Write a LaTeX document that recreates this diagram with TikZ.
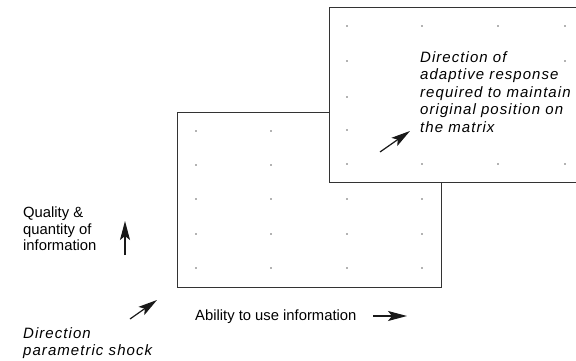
\documentclass[tikz,border=0pt]{standalone}
\usepackage{fontspec}
\setmainfont{Liberation Sans}
\newfontfamily\dirfont[LetterSpace=7]{Liberation Sans}
\usetikzlibrary{arrows.meta}
\begin{document}
\begin{tikzpicture}[x=1pt,y=-1pt,
  frame/.style={draw=black!80,line width=0.8pt},
  spot/.style={fill=black!60},
  dart/.style={line width=1.2pt,black!90,-{Stealth[length=19pt,width=10pt,inset=4pt]}},
  lbl/.style={align=left,inner sep=0pt,anchor=north west,font=\fontsize{14.8}{16.5}\selectfont},
  dir/.style={align=left,inner sep=0pt,anchor=north west,font=\dirfont\itshape\fontsize{15}{17.5}\selectfont}]
\useasboundingbox (0,0) rectangle (576,361);
\clip (0,0) rectangle (576,361);
\draw[frame,fill=white] (177,112) rectangle (441,287);
\foreach \x in {196,271,347,422} \foreach \y in {131,165,199,234,268} \fill[spot] (\x,\y) circle[radius=0.8pt];
\draw[frame,fill=white] (329,7) rectangle (593,182);
\foreach \x/\y in {347/26,422/26,498/26,565/26,347/61,565/61,347/97,347/130,347/164,422/164,498/164,565/164}
  \fill[spot] (\x,\y) circle[radius=0.8pt];
\node[dir] (resp) at (420,51) {Direction of\\adaptive response\\required to maintain\\original position on\\the matrix};
\node[dir] (shock) at (23,327) {Direction\\parametric shock};
\node[lbl] (qual) at (23,207) {Quality \&\\quantity of\\information};
\node[lbl,anchor=west] (abil) at (195,317) {Ability to use information};
\coordinate (v0) at (125,255);
\coordinate (v1) at (125,221);
\coordinate (h0) at (373,316);
\coordinate (h1) at (407,316);
\coordinate (s0) at (130,319);
\coordinate (s1) at (157,300);
\coordinate (r0) at (380,152);
\coordinate (r1) at (410,131);
\draw[dart] (v0) -- (v1);
\draw[dart] (h0) -- (h1);
\draw[dart] (s0) -- (s1);
\draw[dart] (r0) -- (r1);
\end{tikzpicture}
\end{document}
